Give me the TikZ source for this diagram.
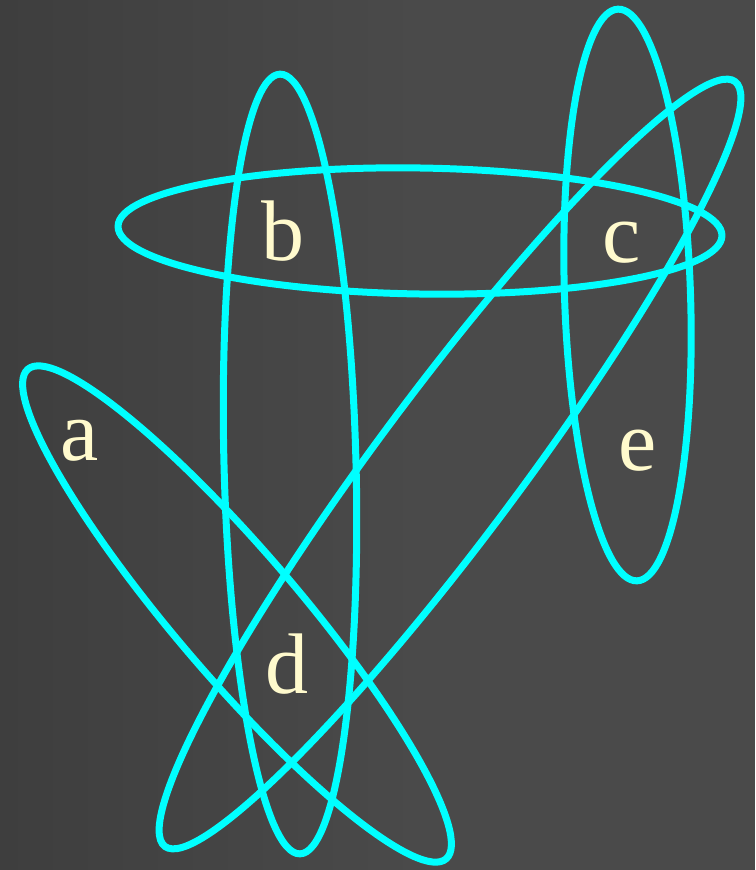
\documentclass[tikz,border=0pt]{standalone}
\usepackage{fontspec}
\setmainfont{Liberation Serif}
\usepackage{xcolor}
\usepackage{tikz}
\definecolor{bgdark}{HTML}{3E3E3E}
\definecolor{bglight}{HTML}{4A4A4A}
\definecolor{edgecyan}{HTML}{00FFFF}
\definecolor{labelcream}{HTML}{FFFACD}

\begin{document}
\begin{tikzpicture}[x=1pt,y=-1pt,
    hyperedge/.style={draw=edgecyan,line width=7pt},
    vertex/.style={text=labelcream,inner sep=0pt,anchor=base,
      font=\fontsize{86}{86}\selectfont}]
  % Hintergrund
  \useasboundingbox (0,0) rectangle (755,870);
  \shade[left color=bgdark,right color=bglight] (0,0) rectangle (420,870);
  \fill[bglight] (419,0) rectangle (755,870);
  % Hyperkanten
  \foreach \cx/\cy/\rot/\ra/\rb in {420/231/-0.9/302/63,
      290/464/1.47/66/390,
      627.5/295/1.9/63/286,
      237/614/-49.5/322/62,
      450/464/53.3/477/72} {
    \draw[hyperedge,shift={(\cx,\cy)},rotate=\rot]
      (0,0) ellipse [x radius=\ra,y radius=\rb];
  }
  % Knoten
  \node[vertex] (a) at (80,460) {a};
  \node[vertex] (b) at (283,260) {b};
  \node[vertex] (c) at (622,262) {c};
  \node[vertex] (d) at (287,693) {d};
  \node[vertex] (e) at (638,470) {e};
\end{tikzpicture}
\end{document}
